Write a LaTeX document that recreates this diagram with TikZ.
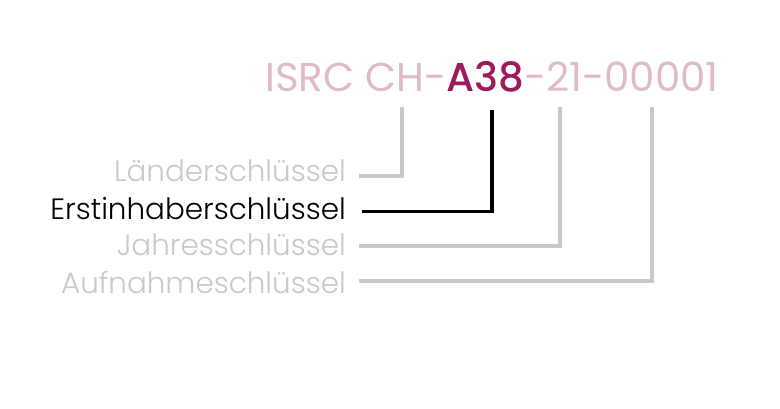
\documentclass[tikz,border=0pt]{standalone}
\usepackage{fontspec}
\setmainfont{Poppins}[UprightFont=* Light, BoldFont=* Medium, Ligatures=NoCommon]
\newfontfamily\titlefont{Poppins}[UprightFont=*, BoldFont=* Medium]
\definecolor{pinkc}{HTML}{DEBACA}
\definecolor{magc}{HTML}{9E1A5C}
\definecolor{greyc}{HTML}{C8C8C8}
\begin{document}
\begin{tikzpicture}[x=1pt,y=-1pt,
  lab/.style={anchor=base east,inner sep=0pt,font=\fontsize{29.4}{31}\selectfont},
  conn/.style={line width=4pt,draw=greyc,line cap=butt,line join=miter},
  connact/.style={line width=3.6pt,draw=black,line cap=butt,line join=miter}]
\useasboundingbox (0,0) rectangle (780,409);
\node[anchor=base west,inner sep=0pt,font=\titlefont\fontsize{40.3}{44}\selectfont] (title) at (265,91.7)
  {\textcolor{pinkc}{ISRC CH-}\textcolor{magc}{\bfseries A38}\textcolor{pinkc}{-21-00001}};
\node[lab,text=greyc] (l1) at (346,181.7) {Länderschlüssel};
\node[lab,text=black] (l2) at (346,219.3) {Erstinhaberschlüssel};
\node[lab,text=greyc] (l3) at (346,255.5) {Jahresschlüssel};
\node[lab,text=greyc] (l4) at (346,294) {Aufnahmeschlüssel};
\coordinate (t1) at (401.7,107);
\coordinate (t2) at (492.2,110);
\coordinate (t3) at (560,107);
\coordinate (t4) at (651.7,107);
\coordinate (e1) at (359,175.7);
\coordinate (e2) at (361.7,211.7);
\coordinate (e3) at (359,245.7);
\coordinate (e4) at (359,281);
\draw[conn] (t1) |- (e1);
\draw[conn] (t3) |- (e3);
\draw[conn] (t4) |- (e4);
\draw[connact] (t2) |- (e2);
\end{tikzpicture}
\end{document}
